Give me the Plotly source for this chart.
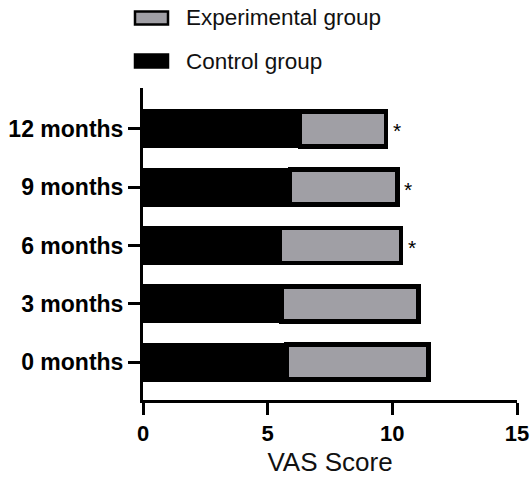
import plotly.graph_objects as go

# VAS scores per follow-up time point (stacked: control segment, then experimental segment)
timepoints = ["0 months", "3 months", "6 months", "9 months", "12 months"]
control_vas = [5.75, 5.55, 5.5, 5.9, 6.3]
experimental_vas = [5.7, 5.5, 4.85, 4.3, 3.45]
significant = [False, False, True, True, True]

x_ticks = [0, 5, 10, 15]

FONT = "Liberation Sans, Arial, sans-serif"
GRAY = "#a09fa5"

fig = go.Figure()
fig.add_trace(go.Bar(
    y=timepoints, x=control_vas, orientation="h", name="Control group",
    marker=dict(color="black", line=dict(color="black", width=4)),
    width=0.6, showlegend=False,
))
fig.add_trace(go.Bar(
    y=timepoints, x=experimental_vas, orientation="h", name="Experimental group",
    marker=dict(color=GRAY, line=dict(color="black", width=4.5)),
    width=0.6, showlegend=False,
))

# significance markers just past the end of each stacked bar
for tp, c, e, sig in zip(timepoints, control_vas, experimental_vas, significant):
    if sig:
        fig.add_annotation(x=c + e, y=tp, text="*", showarrow=False,
                           xanchor="left", yanchor="middle", xshift=5, yshift=-2,
                           font=dict(family=FONT, size=21, color="black"))

# legend drawn with swatches + labels above the plot
def px_to_paper(px, py, l=143, t=88, w=374, h=312):
    return (px - l) / w, (t + h - py) / h

legend_items = [("Experimental group", GRAY, 18), ("Control group", "black", 61)]
for label, color, cy in legend_items:
    x0, y0 = px_to_paper(135, cy + 6.5)
    x1, y1 = px_to_paper(168, cy - 6.5)
    fig.add_shape(type="rect", xref="paper", yref="paper", x0=x0, x1=x1, y0=y0, y1=y1,
                  fillcolor=color, line=dict(color="black", width=2.5))
    tx, ty = px_to_paper(184, cy)
    fig.add_annotation(xref="paper", yref="paper", x=tx, y=ty, text=label,
                       showarrow=False, xanchor="left", yanchor="middle",
                       font=dict(family=FONT, size=22.5, color="#111111"))

fig.update_layout(
    barmode="stack",
    width=531, height=480,
    margin=dict(l=143, r=14, t=88, b=80),
    plot_bgcolor="white", paper_bgcolor="white",
    font=dict(family=FONT, color="black"),
)
fig.update_xaxes(
    range=[0, 15], tickvals=x_ticks, showgrid=False, zeroline=False, automargin=False,
    showline=True, linecolor="black", linewidth=3,
    ticks="outside", ticklen=12, tickwidth=3, tickcolor="black",
    tickfont=dict(family=FONT, size=22, weight="bold", color="black"),
    title=dict(text="VAS Score", font=dict(family=FONT, size=26, color="#111111"), standoff=8),
)
fig.update_yaxes(
    type="category", categoryorder="array", categoryarray=timepoints,
    range=[-0.65, 4.7], showgrid=False, zeroline=False, automargin=False,
    showline=True, linecolor="black", linewidth=3,
    ticks="outside", ticklen=12, tickwidth=3, tickcolor="black",
    tickfont=dict(family=FONT, size=23, weight="bold", color="black"),
)

fig.write_html("out.html")
